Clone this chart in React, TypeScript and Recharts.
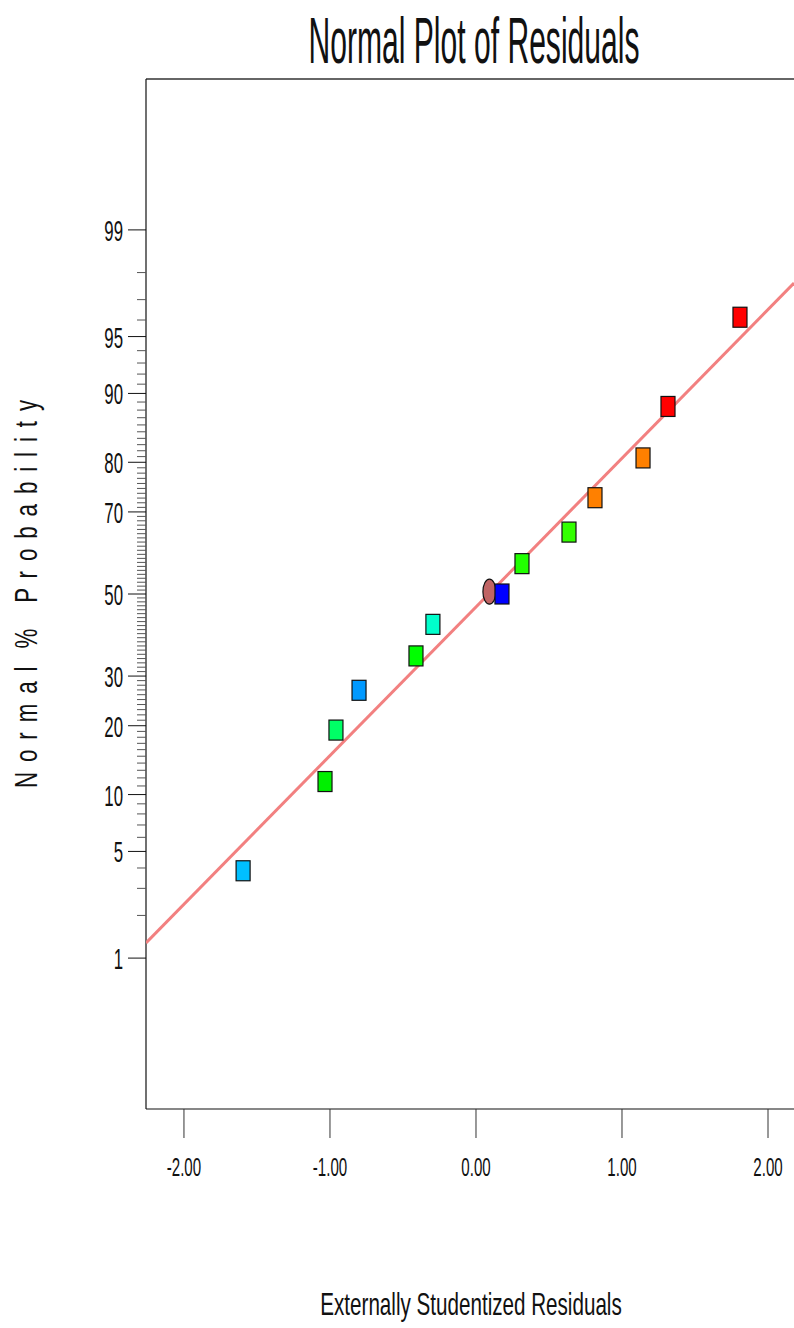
import React from "react";
import {
  ScatterChart,
  Scatter,
  XAxis,
  YAxis,
  ReferenceLine,
} from "recharts";

// ---------- data ----------
const residuals = [-1.595, -1.034, -0.959, -0.801, -0.411, -0.295, 0.178, 0.315, 0.637, 0.815, 1.144, 1.315, 1.808];
const probabilities = [3.85, 11.54, 19.23, 26.92, 34.62, 42.31, 50, 57.69, 65.38, 73.08, 80.77, 88.46, 96.15];
const pointColors = [
  "#00BFFF", "#00F000", "#00FF66", "#0099FF", "#00FF00", "#00FFCC", "#0000FF",
  "#22FF00", "#33FF00", "#FF8000", "#FF8000", "#FF0000", "#FF0000",
];
const highlightResidual = [0.092];
const highlightProbability = [50.6];
const fitResiduals = [-2.26, 2.178];
const fitProbabilities = [1.29, 97.65];
const xTicks = [-2, -1, 0, 1, 2];
const xTickLabels = ["-2.00", "-1.00", "0.00", "1.00", "2.00"];
const majorProbTicks = [1, 5, 10, 20, 30, 50, 70, 80, 90, 95, 99];
const minorProbTicks = [
  2, 3, 4, 6, 7, 8, 9, 11, 12, 13, 14, 15, 16, 17, 18, 19, 21, 22, 23, 24, 25, 26, 27, 28, 29,
  31, 32, 33, 34, 35, 36, 37, 38, 39, 40, 41, 42, 43, 44, 45, 46, 47, 48, 49,
  51, 52, 53, 54, 55, 56, 57, 58, 59, 60, 61, 62, 63, 64, 65, 66, 67, 68, 69,
  71, 72, 73, 74, 75, 76, 77, 78, 79, 81, 82, 83, 84, 85, 86, 87, 88, 89, 91, 92, 93, 94, 96, 97, 98,
];
const probRange = [0.05, 99.95];
const xDomain = [-2.26, 2.178];

// ---------- normal probability (probit) transform ----------
function probit(pct: number): number {
  const p = pct / 100;
  const a = [-3.969683028665376e1, 2.209460984245205e2, -2.759285104469687e2, 1.38357751867269e2, -3.066479806614716e1, 2.506628277459239];
  const b = [-5.447609879822406e1, 1.615858368580409e2, -1.556989798598866e2, 6.680131188771972e1, -1.328068155288572e1];
  const c = [-7.784894002430293e-3, -3.223964580411365e-1, -2.400758277161838, -2.549732539343734, 4.374664141464968, 2.938163982698783];
  const d = [7.784695709041462e-3, 3.224671290700398e-1, 2.445134137142996, 3.754408661907416];
  const pl = 0.02425;
  if (p < pl) {
    const q = Math.sqrt(-2 * Math.log(p));
    return (((((c[0] * q + c[1]) * q + c[2]) * q + c[3]) * q + c[4]) * q + c[5]) / ((((d[0] * q + d[1]) * q + d[2]) * q + d[3]) * q + 1);
  }
  if (p > 1 - pl) {
    const q = Math.sqrt(-2 * Math.log(1 - p));
    return -(((((c[0] * q + c[1]) * q + c[2]) * q + c[3]) * q + c[4]) * q + c[5]) / ((((d[0] * q + d[1]) * q + d[2]) * q + d[3]) * q + 1);
  }
  const q = p - 0.5;
  const r = q * q;
  return ((((((a[0] * r + a[1]) * r + a[2]) * r + a[3]) * r + a[4]) * r + a[5]) * q) / (((((b[0] * r + b[1]) * r + b[2]) * r + b[3]) * r + b[4]) * r + 1);
}

const points = residuals.map((x, i) => ({ x, z: probit(probabilities[i]), color: pointColors[i] }));
const highlight = highlightResidual.map((x, i) => ({ x, z: probit(highlightProbability[i]) }));
const fitLine = fitResiduals.map((x, i) => ({ x, z: probit(fitProbabilities[i]) }));
const yDomain = [probit(probRange[0]), probit(probRange[1])];
const allYTicks = [...majorProbTicks, ...minorProbTicks].sort((a, b) => a - b);
const yTickValues = allYTicks.map(probit);

const FONT = "'Liberation Sans', Arial, Helvetica, sans-serif";

const YTick = (props: any) => {
  const { x, y, payload } = props;
  const idx = yTickValues.indexOf(payload.value);
  const pct = allYTicks[idx];
  const isMajor = majorProbTicks.includes(pct);
  return (
    <g>
      <line
        x1={x - (isMajor ? 18 : 9)}
        x2={x}
        y1={y}
        y2={y}
        stroke={isMajor ? "#111" : "#555"}
        strokeWidth={1}
      />
      {isMajor && (
        <text
          transform={`translate(${x - 23}, ${y + 11}) scale(0.56, 1)`}
          textAnchor="end"
          fontFamily={FONT}
          fontSize={30}
          fill="#111"
        >
          {pct}
        </text>
      )}
    </g>
  );
};

const XTick = (props: any) => {
  const { x, y, payload } = props;
  const idx = xTicks.indexOf(payload.value);
  const label = xTickLabels[idx];
  return (
    <text
      transform={`translate(${x}, ${y + 38}) scale(0.58, 1)`}
      textAnchor="middle"
      fontFamily={FONT}
      fontSize={26}
      fill="#111"
    >
      {label}
    </text>
  );
};

const Square = (props: any) => {
  const { cx, cy, payload } = props;
  return (
    <rect x={cx - 7} y={cy - 10} width={14} height={20} fill={payload.color} stroke="#111" strokeWidth={1.2} />
  );
};

const Oval = (props: any) => {
  const { cx, cy } = props;
  return <ellipse cx={cx} cy={cy} rx={6.5} ry={12.5} fill="#C06464" stroke="#111" strokeWidth={1.2} />;
};

const Empty = () => <g />;

export default function App() {
  return (
    <div style={{ position: "absolute", left: 0, top: 0, width: 794, height: 1328, background: "#fff" }}>
      <ScatterChart width={794} height={1328} margin={{ top: 79, right: 0, bottom: 0, left: 0 }}>
        <XAxis
          type="number"
          dataKey="x"
          domain={xDomain}
          ticks={xTicks}
          interval={0}
          allowDataOverflow
          height={219}
          tickSize={29}
          tickMargin={0}
          tick={<XTick />}
          axisLine={{ stroke: "#111", strokeWidth: 1.2 }}
          tickLine={{ stroke: "#333", strokeWidth: 1 }}
        />
        <YAxis
          type="number"
          dataKey="z"
          domain={yDomain}
          ticks={yTickValues}
          interval={0}
          allowDataOverflow
          width={146}
          tickSize={0}
          tickMargin={0}
          tickLine={false}
          tick={<YTick />}
          axisLine={{ stroke: "#111", strokeWidth: 1.2 }}
        />
        <ReferenceLine y={yDomain[1]} stroke="#333" strokeWidth={1.5} />
        <Scatter
          data={fitLine}
          line={{ stroke: "#F28080", strokeWidth: 3 }}
          shape={<Empty />}
          isAnimationActive={false}
        />
        <Scatter data={highlight} shape={<Oval />} isAnimationActive={false} />
        <Scatter data={points} shape={<Square />} isAnimationActive={false} />
        <text
          transform="translate(474, 63) scale(0.47, 1)"
          textAnchor="middle"
          fontFamily={FONT}
          fontSize={64}
          fill="#111"
        >
          Normal Plot of Residuals
        </text>
        <text
          transform="translate(471, 1315) scale(0.645, 1)"
          textAnchor="middle"
          fontFamily={FONT}
          fontSize={32}
          fill="#111"
        >
          Externally Studentized Residuals
        </text>
        <text
          transform="translate(37, 788) rotate(-90) scale(0.72, 1)"
          x={0}
          y={0}
          fontFamily={FONT}
          fontSize={31}
          fill="#111"
          xmlSpace="preserve"
          style={{ whiteSpace: "pre" }}
          textLength={539}
          lengthAdjust="spacing"
        >
          {"N o r m a l  %   P r o b a b i l i t y"}
        </text>
      </ScatterChart>
    </div>
  );
}
